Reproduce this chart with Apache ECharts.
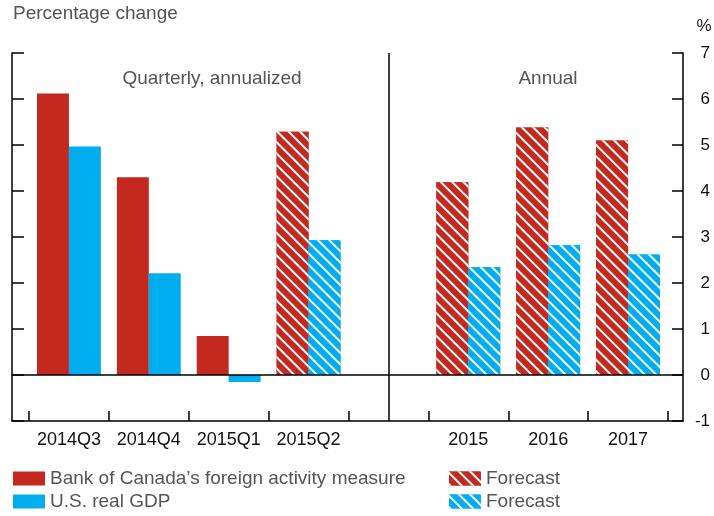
<!DOCTYPE html>
<html>
<head>
<meta charset="utf-8">
<script src="https://cdn.jsdelivr.net/npm/echarts@6/dist/echarts.min.js"></script>
<style>
  html, body { margin: 0; padding: 0; background: #fff; }
  #main { width: 714px; height: 516px; }
</style>
</head>
<body>
<div id="main"></div>
<script>
// categories (empty slot in the middle separates the two panels)
var categories = ['2014Q3', '2014Q4', '2015Q1', '2015Q2', '', '2015', '2016', '2017'];
// Bank of Canada's foreign activity measure
var bocActual   = [6.12, 4.30, 0.85, null, null, null, null, null];
var bocForecast = [null, null, null, 5.29, null, 4.19, 5.38, 5.10];
// U.S. real GDP
var usActual    = [4.97, 2.21, -0.15, null, null, null, null, null];
var usForecast  = [null, null, null, 2.93, null, 2.34, 2.82, 2.62];
var yTicks = { min: -1, max: 7, interval: 1 };

var RED = '#c4291f';
var BLUE = '#00aeef';
var FONT = 'Liberation Sans, Arial, sans-serif';

function hatch(c) {
    return {
        color: c,
        decal: {
            symbol: 'rect',
            color: '#ffffff',
            backgroundColor: c,
            dashArrayX: [1, 0],
            dashArrayY: [2, 5.5],
            rotation: Math.PI / 4
        }
    };
}

var myChart = echarts.init(document.getElementById('main'), null, { renderer: 'canvas' });

var option = {
    animation: false,
    textStyle: { fontFamily: FONT },
    graphic: [
        { type: 'text', x: 13, y: 14, style: { text: 'Percentage change', fontSize: 19, fill: '#555', fontFamily: FONT, verticalAlign: 'middle' } },
        { type: 'text', x: 704, y: 26, style: { text: '%', fontSize: 17, fill: '#222', fontFamily: FONT, align: 'center', verticalAlign: 'middle' } },
        { type: 'text', x: 212, y: 79, style: { text: 'Quarterly, annualized', fontSize: 19, fill: '#555', fontFamily: FONT, align: 'center', verticalAlign: 'middle' } },
        { type: 'text', x: 548, y: 79, style: { text: 'Annual', fontSize: 19, fill: '#555', fontFamily: FONT, align: 'center', verticalAlign: 'middle' } }
    ],
    legend: [
        {
            left: 13, top: 469, height: 80, orient: 'vertical', itemGap: 4,
            itemWidth: 32, itemHeight: 14, padding: 0, icon: 'rect',
            textStyle: { fontSize: 19, color: '#555', fontFamily: FONT },
            data: ['Bank of Canada\u2019s foreign activity measure', 'U.S. real GDP']
        },
        {
            left: 449, top: 469, height: 80, orient: 'vertical', itemGap: 4,
            itemWidth: 32, itemHeight: 14, padding: 0, icon: 'rect',
            textStyle: { fontSize: 19, color: '#555', fontFamily: FONT },
            formatter: function () { return 'Forecast'; },
            data: ['Forecast BoC', 'Forecast US']
        }
    ],
    grid: [
        // outer frame
        { left: 12, right: 31, top: 53, bottom: 95 },
        // bars
        { left: 29, right: 46, top: 53, bottom: 95 }
    ],
    xAxis: [
        {
            gridIndex: 0, type: 'value', min: 0, max: 1,
            axisLine: { show: true, onZero: false, lineStyle: { color: '#000', width: 1.5 } },
            axisTick: { show: false }, axisLabel: { show: false }, splitLine: { show: false }
        },
        {
            gridIndex: 1, type: 'category', data: categories,
            axisLine: { show: false, onZero: false },
            axisTick: { show: true, inside: true, length: 10, interval: 0, lineStyle: { color: '#000', width: 1.5 } },
            axisLabel: { color: '#111', fontSize: 18, margin: 10, interval: 0, hideOverlap: false, fontFamily: FONT },
            splitLine: { show: false }
        }
    ],
    yAxis: [
        {
            gridIndex: 0, type: 'value', position: 'left',
            min: yTicks.min, max: yTicks.max, interval: yTicks.interval,
            axisLine: { show: true, onZero: false, lineStyle: { color: '#000', width: 1.5 } },
            axisTick: { show: true, inside: true, length: 12, lineStyle: { color: '#000', width: 1.5 } },
            axisLabel: { show: false }, splitLine: { show: false }
        },
        {
            gridIndex: 0, type: 'value', position: 'right',
            min: yTicks.min, max: yTicks.max, interval: yTicks.interval,
            axisLine: { show: true, onZero: false, lineStyle: { color: '#000', width: 1.5 } },
            axisTick: { show: true, inside: true, length: 11, lineStyle: { color: '#000', width: 1.5 } },
            axisLabel: { color: '#111', fontSize: 17, align: 'right', margin: 27, fontFamily: FONT },
            splitLine: { show: false }
        },
        {
            gridIndex: 1, type: 'value', show: false,
            min: yTicks.min, max: yTicks.max, interval: yTicks.interval
        }
    ],
    series: [
        {
            // zero line across the whole frame
            type: 'line', xAxisIndex: 0, yAxisIndex: 0, data: [],
            silent: true,
            markLine: {
                symbol: 'none', silent: true, label: { show: false },
                lineStyle: { color: '#000', width: 1.5, type: 'solid' },
                data: [{ yAxis: 0 }]
            }
        },
        {
            // divider between the quarterly and annual panels
            type: 'line', xAxisIndex: 1, yAxisIndex: 2, data: [],
            silent: true,
            markLine: {
                symbol: 'none', silent: true, label: { show: false },
                lineStyle: { color: '#000', width: 1.5, type: 'solid' },
                data: [{ xAxis: 4 }]
            }
        },
        {
            name: 'Bank of Canada\u2019s foreign activity measure', type: 'bar',
            xAxisIndex: 1, yAxisIndex: 2, stack: 'boc',
            barCategoryGap: '20%', barGap: '0%',
            itemStyle: { color: RED },
            data: bocActual
        },
        {
            name: 'U.S. real GDP', type: 'bar',
            xAxisIndex: 1, yAxisIndex: 2, stack: 'us',
            barCategoryGap: '20%', barGap: '0%',
            itemStyle: { color: BLUE },
            data: usActual
        },
        {
            name: 'Forecast BoC', type: 'bar',
            xAxisIndex: 1, yAxisIndex: 2, stack: 'boc',
            barCategoryGap: '20%', barGap: '0%',
            itemStyle: hatch(RED),
            data: bocForecast
        },
        {
            name: 'Forecast US', type: 'bar',
            xAxisIndex: 1, yAxisIndex: 2, stack: 'us',
            barCategoryGap: '20%', barGap: '0%',
            itemStyle: hatch(BLUE),
            data: usForecast
        }
    ]
};

myChart.setOption(option);
</script>
</body>
</html>
